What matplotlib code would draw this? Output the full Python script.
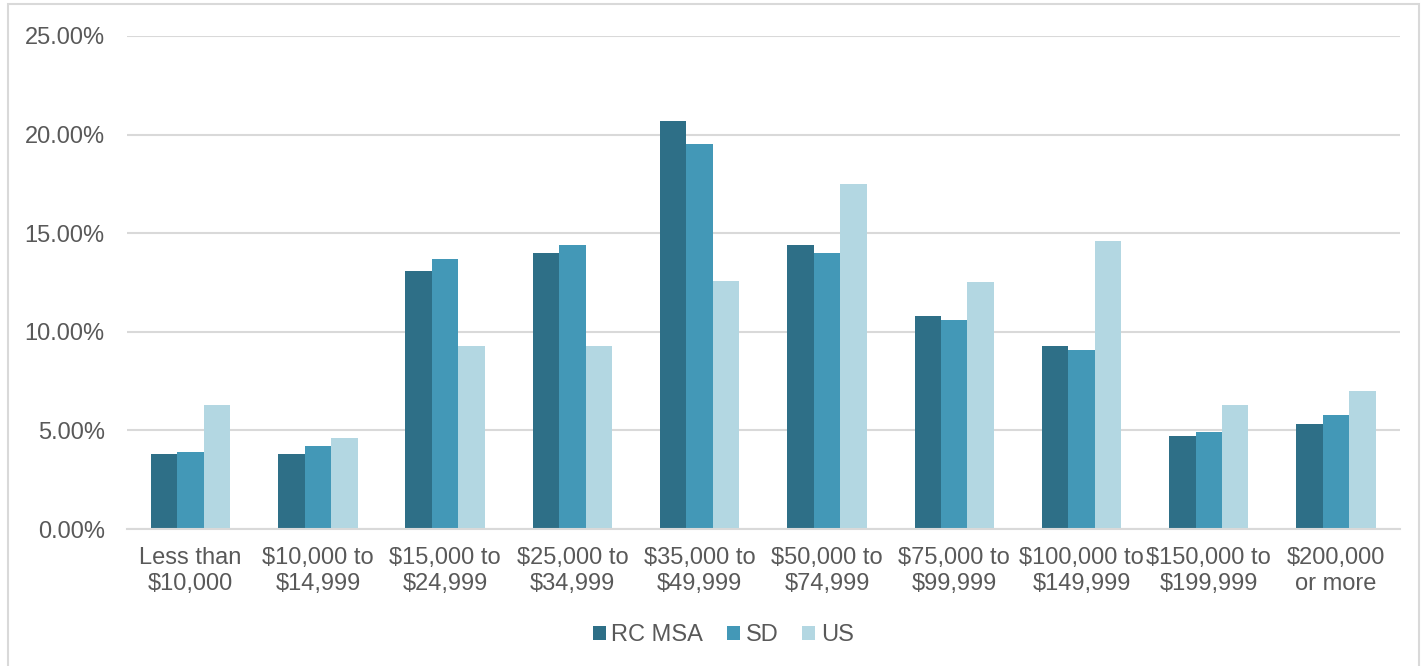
import matplotlib
matplotlib.use("Agg")
import matplotlib.pyplot as plt
import numpy as np
from matplotlib.patches import Rectangle
from matplotlib.ticker import FuncFormatter

plt.rcParams['font.family'] = ['Liberation Sans', 'DejaVu Sans']

categories = [
    "Less than\n$10,000", "$10,000 to\n$14,999", "$15,000 to\n$24,999",
    "$25,000 to\n$34,999", "$35,000 to\n$49,999", "$50,000 to\n$74,999",
    "$75,000 to\n$99,999", "$100,000 to\n$149,999", "$150,000 to\n$199,999",
    "$200,000\nor more",
]
series_names = ["RC MSA", "SD", "US"]
rc_msa = [3.8, 3.8, 13.1, 14.0, 20.7, 14.4, 10.8, 9.3, 4.7, 5.3]
sd = [3.9, 4.2, 13.7, 14.4, 19.5, 14.0, 10.6, 9.1, 4.9, 5.8]
us = [6.3, 4.6, 9.3, 9.3, 12.6, 17.5, 12.5, 14.6, 6.3, 7.0]
y_ticks = [0, 5, 10, 15, 20, 25]

colors = ["#2E6F87", "#4398B7", "#B3D7E2"]
text_color = "#595959"
grid_color = "#D9D9D9"

fig = plt.figure(figsize=(14.21, 6.66), dpi=100)
ax = fig.add_axes([0.0894, 0.2057, 0.8956, 0.7403])

x = np.arange(len(categories))
bw = 0.208
for i, (vals, name, c) in enumerate(zip([rc_msa, sd, us], series_names, colors)):
    ax.bar(x + (i - 1) * bw, vals, width=bw, color=c, label=name, zorder=3)

ax.set_xlim(-0.5, len(categories) - 0.5)
ax.set_ylim(0, 25)
ax.set_yticks(y_ticks)
ax.yaxis.set_major_formatter(FuncFormatter(lambda v, p: f"{v:.2f}%"))
ax.set_xticks(x)
ax.set_xticklabels(categories, linespacing=1.25)

ax.grid(axis='y', color=grid_color, linewidth=1.5, zorder=0)
for s in ["top", "right", "left"]:
    ax.spines[s].set_visible(False)
ax.spines["bottom"].set_color(grid_color)
ax.spines["bottom"].set_linewidth(1.5)
ax.spines["bottom"].set_zorder(4)

ax.tick_params(axis='y', length=0, pad=16, labelsize=17, labelcolor=text_color)
ax.tick_params(axis='x', length=0, pad=13, labelsize=17, labelcolor=text_color)

leg = fig.legend(loc='center', bbox_to_anchor=(0.509, 0.046), ncol=3, frameon=False,
                 fontsize=17, handlelength=0.55, handleheight=0.55, handletextpad=0.25,
                 columnspacing=1.0, labelcolor=text_color)

# light frame around the whole chart, in figure pixel coordinates
fig.patches.append(Rectangle((8, -40), 1411, 666 - 4 + 40, transform=None, fill=False,
                             edgecolor="#D9D9D9", linewidth=1.5))

fig.savefig("out.png", dpi=100)
